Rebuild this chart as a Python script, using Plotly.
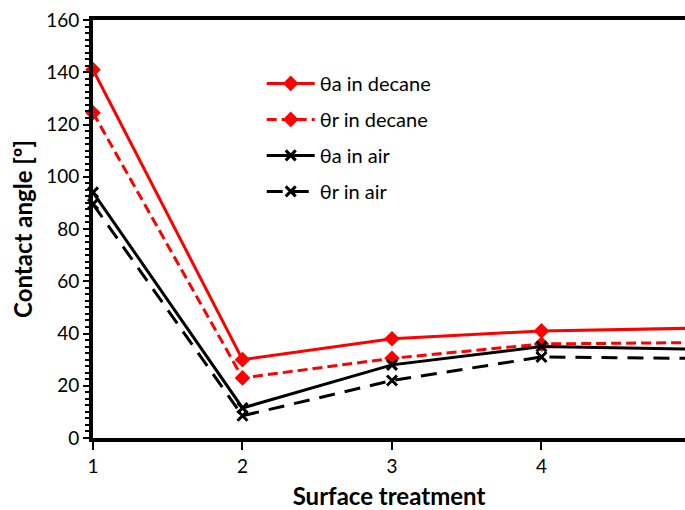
import plotly.graph_objects as go

treatment = [1, 2, 3, 4, 5]
theta_a_decane = [141, 30, 38, 41, 42]
theta_r_decane = [124.5, 23, 30.5, 36, 36.5]
theta_a_air = [94, 11.5, 28, 35, 34]
theta_r_air = [89.5, 8.5, 22, 31, 30.5]

names = ["θa in decane", "θr in decane", "θa in air", "θr in air"]
series = [theta_a_decane, theta_r_decane, theta_a_air, theta_r_air]
colors = ["#ff0000", "#ff0000", "#000000", "#000000"]
dashes = ["solid", "10px,5px", "solid", "16px,10px"]
symbols = ["diamond", "diamond", "x-thin", "x-thin"]
msizes = [12, 12, 10, 10]

FONT = "Lato, 'DejaVu Sans', sans-serif"

fig = go.Figure()
for i, (n, s) in enumerate(zip(names, series)):
    mk = dict(symbol=symbols[i], size=msizes[i], color=colors[i])
    if symbols[i] == "x-thin":
        mk["line"] = dict(width=3, color=colors[i])
    fig.add_trace(go.Scatter(
        x=treatment, y=s, name=n, mode="lines+markers",
        line=dict(color=colors[i], width=3, dash=dashes[i]),
        marker=mk, legendgroup=f"g{i}", cliponaxis=False,
    ))

fig.update_layout(
    width=685, height=510,
    margin=dict(l=93, r=0, t=20, b=72),
    plot_bgcolor="white", paper_bgcolor="white",
    font=dict(family=FONT, size=18, color="black"),
    showlegend=True,
    legend=dict(x=0.285, y=0.895, xanchor="left", yanchor="top",
                bgcolor="rgba(0,0,0,0)", tracegroupgap=7,
                font=dict(size=20), itemwidth=48),
    xaxis=dict(range=[1, 4.96], tickvals=[1, 2, 3, 4], ticktext=["1", "2", "3", "4"],
               showline=True, linecolor="black", linewidth=4, mirror=True,
               ticks="outside", ticklen=8, tickwidth=2, tickcolor="black",
               showgrid=False, zeroline=False, tickfont=dict(size=19),
               title=dict(text="<b>Surface treatment</b>", font=dict(size=24), standoff=14)),
    yaxis=dict(range=[0, 160], dtick=20,
               showline=True, linecolor="black", linewidth=4,
               ticks="outside", ticklen=6, tickwidth=2, tickcolor="black",
               minor=dict(dtick=2.5, ticks="outside", ticklen=4, tickwidth=2, tickcolor="black"),
               showgrid=False, zeroline=False, tickfont=dict(size=19),
               title=dict(text="<b>Contact angle [º]</b>", font=dict(size=24), standoff=8)),
)

fig.write_html("out.html")
